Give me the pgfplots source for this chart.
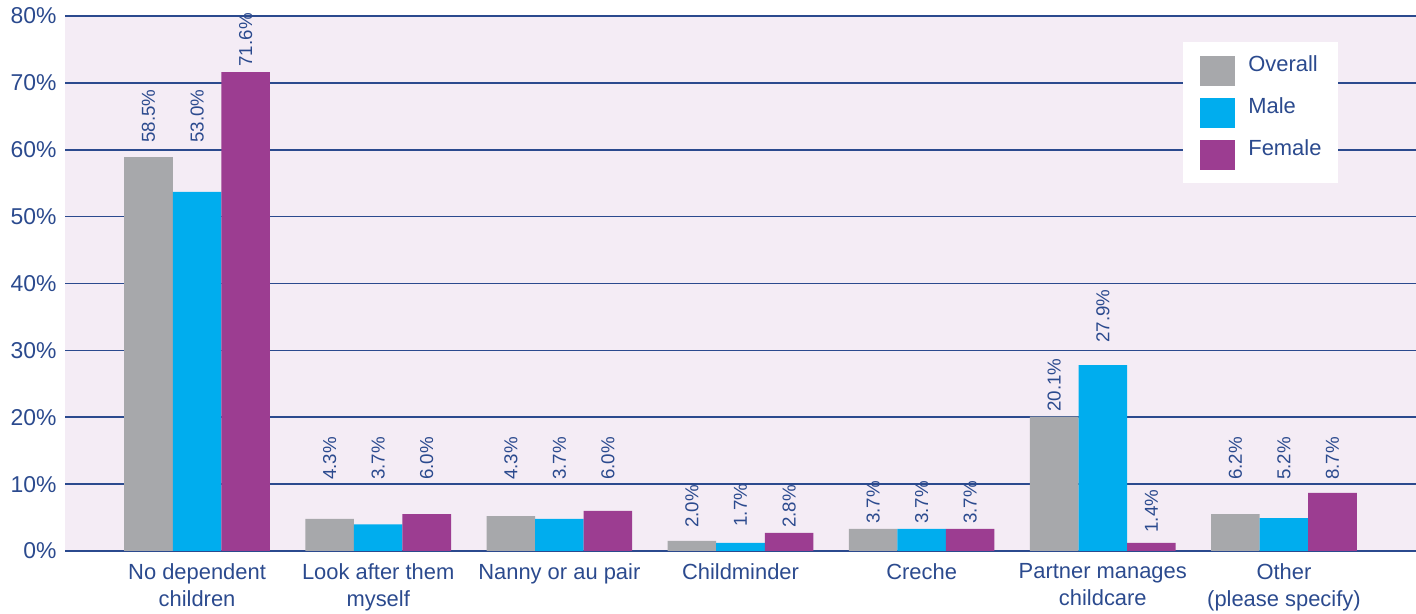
\documentclass[border=0pt]{standalone}
\usepackage{fontspec}
\setmainfont{Liberation Sans}
\usepackage{pgfplots}
\pgfplotsset{compat=1.18}
\usepackage{pgfplotstable}

\definecolor{cOverall}{HTML}{A7A8AB}
\definecolor{cMale}{HTML}{00ADEE}
\definecolor{cFemale}{HTML}{9C3D91}
\definecolor{bgcol}{HTML}{F4ECF5}
\definecolor{navy}{HTML}{2B4A8E}

% x, bar height, printed label, label height
\pgfplotstableread{
x val lab ly
0 58.9 58.5 61.0
1 4.8  4.3  10.6
2 5.2  4.3  10.6
3 1.5  2.0  3.4
4 3.3  3.7  4.0
5 20.1 20.1 20.8
6 5.5  6.2  10.6
}\overall
\pgfplotstableread{
x val lab ly
0 53.7 53.0 61.0
1 4.0  3.7  10.6
2 4.8  3.7  10.6
3 1.2  1.7  3.6
4 3.3  3.7  4.0
5 27.8 27.9 31.1
6 4.9  5.2  10.6
}\male
\pgfplotstableread{
x val lab ly
0 71.6 71.6 72.4
1 5.5  6.0  10.6
2 6.0  6.0  10.6
3 2.7  2.8  3.4
4 3.3  3.7  4.0
5 1.2  1.4  2.7
6 8.7  8.7  10.6
}\female

\pgfplotsset{
  labelnodes/.style={
    draw=none, mark=none, only marks, forget plot,
    point meta=explicit symbolic,
    nodes near coords={\pgfplotspointmeta\%},
    nodes near coords style={rotate=90, anchor=west, inner sep=0pt,
      text=navy, font=\fontsize{9.4}{10}\selectfont},
  },
}

\begin{document}
\begin{tikzpicture}
\begin{axis}[
    at={(32.5bp,31.5bp)}, anchor=south west,
    scale only axis,
    width=675.5bp, height=267.5bp,
    xmin=-0.729, xmax=6.729,
    ymin=0, ymax=80,
    ytick={0,10,...,80},
    xtick={0,...,6},
    xticklabels={No dependent\\children, Look after them\\myself,
      Nanny or au pair, Childminder, Creche,
      Partner manages\\childcare, Other\\(please specify)},
    xticklabel style={align=center, inner sep=0pt, yshift=-6bp,
      font=\fontsize{11}{13.5}\selectfont, text=navy},
    yticklabel={\pgfmathprintnumber{\tick}\%},
    yticklabel style={inner sep=0pt, xshift=-4bp,
      font=\fontsize{11.5}{12}\selectfont, text=navy},
    /pgf/number format/assume math mode=true,
    major tick length=0pt,
    axis line style={draw=none},
    ymajorgrids,
    grid style={navy, line width=0.8bp},
    axis background/.style={fill=bgcol},
    legend cell align=left,
    legend style={at={(0.8275,0.9514)}, anchor=north west,
      draw=none, fill=white, inner xsep=8.5bp, inner ysep=6.5bp,
      nodes={inner sep=0pt, anchor=base west, text=navy,
        font=\fontsize{11}{12}\selectfont},
      row sep=5.5bp, column sep=6.5bp},
    legend image code/.code={\fill[#1] (0bp,-7.5bp) rectangle (17.5bp,7.5bp);},
]
\addplot[ybar, fill=cOverall, draw=none, bar width=0.268, bar shift=-0.268]
  table[x=x, y=val] {\overall};
\addlegendentry{Overall}
\addplot[ybar, fill=cMale, draw=none, bar width=0.268, bar shift=0]
  table[x=x, y=val] {\male};
\addlegendentry{Male}
\addplot[ybar, fill=cFemale, draw=none, bar width=0.268, bar shift=0.268]
  table[x=x, y=val] {\female};
\addlegendentry{Female}

\addplot[labelnodes] table[x expr=\thisrow{x}-0.268, y=ly, meta=lab] {\overall};
\addplot[labelnodes] table[x=x, y=ly, meta=lab] {\male};
\addplot[labelnodes] table[x expr=\thisrow{x}+0.268, y=ly, meta=lab] {\female};
\end{axis}
\pgfresetboundingbox
\path[use as bounding box] (0,0) rectangle (708bp,307bp);
\end{tikzpicture}
\end{document}
